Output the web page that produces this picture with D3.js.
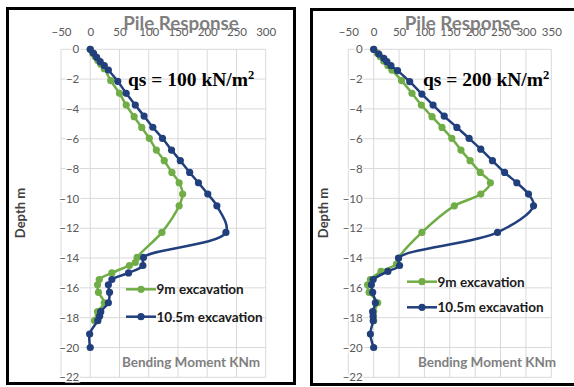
<!DOCTYPE html>
<html><head><meta charset="utf-8">
<script src="https://cdn.jsdelivr.net/npm/d3@7"></script>
<style>html,body{margin:0;padding:0;background:#fff;}svg{display:block;}</style>
</head><body>
<svg id="c" width="574" height="387"></svg>
<script>
// ---- data ----
const xTicksA = [-50, 0, 50, 100, 150, 200, 250, 300];
const xTicksB = [-50, 0, 50, 100, 150, 200, 250, 300, 350];
const yTicks = [0, -2, -4, -6, -8, -10, -12, -14, -16, -18, -20, -22];
const seriesNames = ["9m excavation", "10.5m excavation"];

// qs = 100
const depthA9 = [0, -0.25, -0.5, -0.75, -1.0, -1.3, -2.1, -2.95, -3.74, -4.52, -5.24, -5.97, -6.76, -7.47, -8.26, -8.95, -9.71, -10.5, -12.28, -13.96, -14.3, -14.5, -15.0, -15.44, -15.8, -16.3, -17.0, -17.6, -18.2];
const momentA9 = [0, 4, 8.5, 13, 18, 24, 35, 50, 61.5, 75, 88, 101, 113, 126.5, 139.6, 152, 158, 152, 122.5, 80, 77, 67, 37, 15.4, 12.5, 14, 24, 12.5, 7.4];
const depthA105 = [0, -0.27, -0.54, -0.83, -1.1, -1.39, -2.15, -2.95, -3.74, -4.48, -5.23, -5.97, -6.76, -7.47, -8.26, -8.95, -9.71, -10.5, -12.28, -13.96, -14.5, -15.0, -15.44, -15.8, -16.3, -17.0, -17.6, -17.9, -18.2, -19.1, -20];
const momentA105 = [0, 5.7, 11, 17, 24, 31, 47, 61.5, 77, 92, 107, 123.5, 139, 154, 170, 185, 201, 216.5, 232, 91, 90, 65.5, 37, 31, 33, 31, 18, 16, 13, -1, 0];

// qs = 200
const depthB9 = [0, -0.25, -0.5, -0.8, -1.1, -1.4, -2.1, -2.95, -3.74, -4.52, -5.24, -5.97, -6.76, -7.47, -8.26, -8.95, -9.71, -10.5, -12.28, -14.0, -14.4, -14.9, -15.44, -15.8, -16.3, -17.0, -17.6, -18.2];
const momentB9 = [0, 7, 13, 20, 28, 36, 55, 75.5, 94, 115, 134.6, 154, 172, 190, 210, 230, 211, 159, 95, 49, 45, 14.5, -6.5, -12, -9, 8, 0, 0];
const depthB105 = [0, -0.32, -0.6, -0.83, -1.1, -1.43, -2.17, -3.0, -3.74, -4.48, -5.24, -5.97, -6.7, -7.47, -8.26, -8.95, -9.71, -10.5, -12.28, -14.0, -14.5, -14.9, -15.44, -15.8, -16.3, -17.0, -17.6, -17.9, -18.2, -19.1, -20];
const momentB105 = [0, 10, 20, 26, 34, 47, 71, 95, 117, 139, 164, 188, 211, 234, 258, 282, 305, 315, 244, 49, 51, 28, -1, -4.5, -2, 3.3, -2, -1, -1, -6.5, 0];

const colors = ["#70ad47", "#213f7c"];
const svg = d3.select("#c");
const font = "Lato, 'Open Sans', sans-serif";

function panel(cfg) {
  const g = svg.append("g");
  g.append("rect").attr("x", cfg.box[0]).attr("y", cfg.box[1]).attr("width", cfg.box[2]).attr("height", cfg.box[3])
    .attr("fill", "#fff").attr("stroke", "#000").attr("stroke-width", 3);
  const x = d3.scaleLinear().domain([cfg.xTicks[0], cfg.xTicks[cfg.xTicks.length - 1]]).range(cfg.xr);
  const y = d3.scaleLinear().domain([0, -22]).range([49.3, 377.3]);
  g.append("g").selectAll("line").data(cfg.xTicks).join("line")
    .attr("x1", d => x(d)).attr("x2", d => x(d)).attr("y1", y(0)).attr("y2", y(-22))
    .attr("stroke", "#d9d9d9").attr("stroke-width", 1);
  g.append("g").selectAll("line").data(yTicks).join("line")
    .attr("x1", cfg.xr[0]).attr("x2", cfg.xr[1]).attr("y1", d => y(d)).attr("y2", d => y(d))
    .attr("stroke", "#d9d9d9").attr("stroke-width", 1);
  const xa = d3.axisTop(x).tickValues(cfg.xTicks).tickSize(0).tickPadding(0);
  const xg = g.append("g").attr("transform", "translate(0,36)").call(xa);
  xg.select(".domain").remove();
  xg.selectAll("text").attr("font-family", font).attr("font-size", 11.5).attr("fill", "#595959").attr("dy", 0);
  const ya = d3.axisLeft(y).tickValues(yTicks).tickSize(0).tickPadding(0);
  const yg = g.append("g").attr("transform", `translate(${x(0) - 11},0)`).call(ya);
  yg.select(".domain").remove();
  yg.selectAll("text").attr("font-family", font).attr("font-size", 11.5).attr("fill", "#595959")
    .attr("stroke", "#fff").attr("stroke-width", 3).attr("paint-order", "stroke");
  g.append("text").attr("x", cfg.titleX).attr("y", 30).attr("text-anchor", "middle")
    .attr("font-family", font).attr("font-weight", 700).attr("font-size", 18.8).attr("fill", "#7f7f7f")
    .text("Pile Response");
  const q = g.append("text").attr("x", cfg.qsX).attr("y", 86).attr("font-family", "'Liberation Serif', 'Times New Roman', serif")
    .attr("font-weight", 700).attr("font-size", 19.5).attr("fill", "#000");
  q.append("tspan").text(cfg.qs);
  q.append("tspan").attr("dy", -7.5).attr("font-size", 12.5).text("2");
  g.append("text").attr("transform", `translate(${cfg.depthX},213) rotate(-90)`).attr("text-anchor", "middle")
    .attr("dominant-baseline", "central").attr("font-family", font).attr("font-weight", 700).attr("font-size", 13)
    .attr("fill", "#404040").text("Depth m");
  g.append("text").attr("x", cfg.bmX).attr("y", 367).attr("text-anchor", "middle")
    .attr("font-family", font).attr("font-weight", 700).attr("font-size", 13.5).attr("fill", "#7f7f7f")
    .text("Bending Moment KNm");
  const line = d3.line().x(d => x(d[0])).y(d => y(d[1])).curve(d3.curveCatmullRom.alpha(0.5));
  cfg.series.forEach((s, i) => {
    const pts = s.m.map((v, k) => [v, s.d[k]]);
    g.append("path").attr("d", line(pts)).attr("fill", "none").attr("stroke", colors[i]).attr("stroke-width", 2.5);
    g.append("g").selectAll("circle").data(pts).join("circle")
      .attr("cx", d => x(d[0])).attr("cy", d => y(d[1])).attr("r", 3.6).attr("fill", colors[i]);
  });
  seriesNames.forEach((n, i) => {
    const ly = cfg.legY[i];
    g.append("line").attr("x1", cfg.legX).attr("x2", cfg.legX + 30).attr("y1", ly).attr("y2", ly)
      .attr("stroke", colors[i]).attr("stroke-width", 2.5);
    g.append("circle").attr("cx", cfg.legX + 15).attr("cy", ly).attr("r", 3.6).attr("fill", colors[i]);
    g.append("text").attr("x", cfg.legX + 30.5).attr("y", ly).attr("dominant-baseline", "central")
      .attr("font-family", font).attr("font-weight", 700).attr("font-size", 13.5).attr("fill", "#1a1a1a").text(n);
  });
}

panel({
  box: [7.5, 8.5, 287, 375], xTicks: xTicksA, xr: [61, 265.7], titleX: 181, qsX: 128, qs: "qs = 100 kN/m",
  depthX: 20, bmX: 191, legX: 126, legY: [289.3, 316.7],
  series: [{d: depthA9, m: momentA9}, {d: depthA105, m: momentA105}]
});
panel({
  box: [311.5, 9.5, 275, 375], xTicks: xTicksB, xr: [348.3, 551.3], titleX: 462.5, qsX: 423, qs: "qs = 200 kN/m",
  depthX: 323, bmX: 487, legX: 407, legY: [281.7, 307.3],
  series: [{d: depthB9, m: momentB9}, {d: depthB105, m: momentB105}]
});
</script>
</body></html>
